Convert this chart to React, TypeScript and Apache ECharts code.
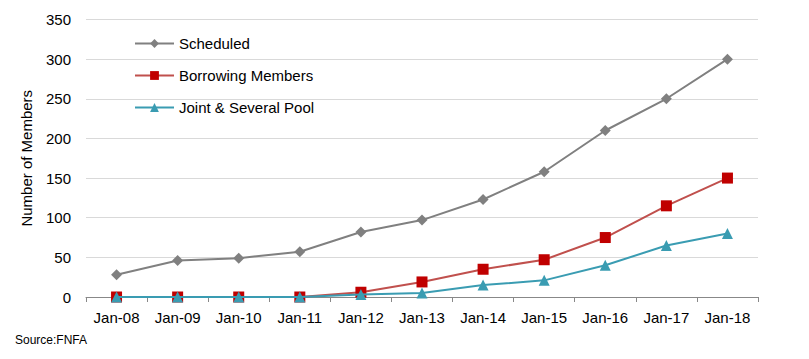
import React, { useEffect, useRef } from "react";
import * as echarts from "echarts";

const categories = ["Jan-08", "Jan-09", "Jan-10", "Jan-11", "Jan-12", "Jan-13", "Jan-14", "Jan-15", "Jan-16", "Jan-17", "Jan-18"];
const scheduled = [28, 46, 49, 57, 82, 97, 123, 158, 210, 250, 300];
const borrowing = [0, 0, 0, 0, 6, 19, 35, 47, 75, 115, 150];
const jointPool = [0, 0, 0, 0, 3, 5, 15, 21, 40, 65, 80];
const yTicks = { min: 0, max: 350, interval: 50 };

export default function App() {
  const ref = useRef<HTMLDivElement>(null);
  useEffect(() => {
    if (!ref.current) return;
    const chart = echarts.init(ref.current, undefined, { renderer: "svg" });
    const font = "'Liberation Sans', Arial, sans-serif";
    chart.setOption({
      animation: false,
      textStyle: { fontFamily: font },
      grid: { left: 86, right: 51, top: 19.5, bottom: 62 },
      legend: {
        orient: "vertical",
        left: 134,
        top: 36,
        padding: 0,
        itemWidth: 39,
        itemHeight: 11,
        itemGap: 17,
        textStyle: { fontSize: 15, color: "#000", fontFamily: font },
        data: ["Scheduled", "Borrowing Members", "Joint & Several Pool"],
      },
      xAxis: {
        type: "category",
        data: categories,
        boundaryGap: true,
        axisLine: { lineStyle: { color: "#888", width: 1 } },
        axisTick: { show: true, length: 5, lineStyle: { color: "#888" } },
        axisLabel: { color: "#000", fontSize: 15, margin: 13, interval: 0, fontFamily: font },
      },
      yAxis: {
        type: "value",
        min: yTicks.min,
        max: yTicks.max,
        interval: yTicks.interval,
        name: "Number of Members",
        nameLocation: "middle",
        nameGap: 52,
        nameRotate: 90,
        nameTextStyle: { color: "#000", fontSize: 15, fontFamily: font },
        axisLine: { show: false },
        axisTick: { show: false },
        axisLabel: { color: "#000", fontSize: 15, margin: 15, fontFamily: font },
        splitLine: { lineStyle: { color: "#d9d9d9", width: 1 } },
      },
      series: [
        {
          name: "Scheduled",
          type: "line",
          data: scheduled,
          symbol: "diamond",
          symbolSize: 11,
          lineStyle: { color: "#808080", width: 2 },
          itemStyle: { color: "#808080" },
          z: 3,
        },
        {
          name: "Borrowing Members",
          type: "line",
          data: borrowing,
          symbol: "rect",
          symbolSize: 11,
          lineStyle: { color: "#C0504D", width: 2 },
          itemStyle: { color: "#C00000" },
          z: 4,
        },
        {
          name: "Joint & Several Pool",
          type: "line",
          data: jointPool,
          symbol: "triangle",
          symbolSize: 11,
          lineStyle: { color: "#3A9CB2", width: 2 },
          itemStyle: { color: "#3A9CB2" },
          z: 5,
        },
      ],
      graphic: [
        {
          type: "text",
          left: 15,
          top: 334,
          style: { text: "Source:FNFA", fontSize: 12, fill: "#000", fontFamily: font },
        },
      ],
    });
    return () => chart.dispose();
  }, []);
  return <div ref={ref} style={{ width: 809, height: 359, position: "absolute", left: 0, top: 0 }} />;
}
